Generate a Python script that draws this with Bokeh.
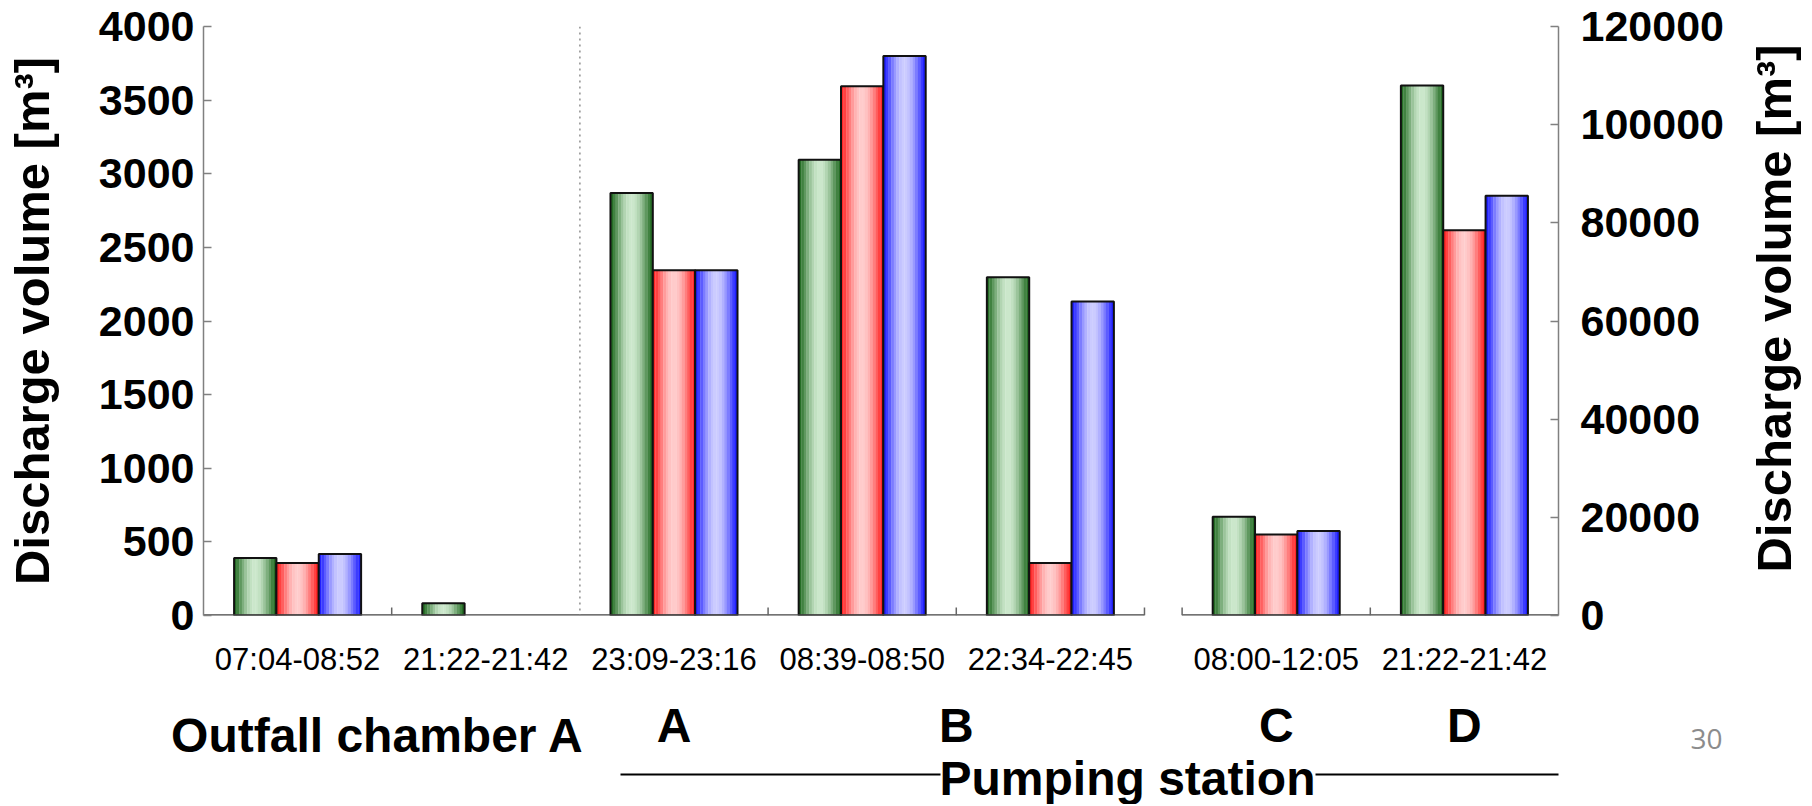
import math
from bokeh.plotting import figure
from bokeh.models import (ColumnDataSource, Range1d, LinearAxis, FixedTicker,
                          CustomJSTickFormatter, BasicTickFormatter, Span)
from bokeh.transform import dodge
from bokeh.layouts import column, row
from bokeh.embed import file_html
from bokeh.resources import INLINE
from bokeh.core.properties import value

nan = float("nan")

# ---------------- data ----------------
left_categories = ["07:04-08:52", "21:22-21:42", "23:09-23:16", "08:39-08:50", "22:34-22:45"]
left_sites = ["Outfall chamber A", "Outfall chamber A", "A", "B", "B"]
right_categories = ["08:00-12:05", "21:22-21:42"]
right_sites = ["C", "D"]

green_left = [390, 83, 2870, 3095, 2297]
red_left = [357, nan, 2345, 3595, 357]
blue_left = [417, nan, 2345, 3800, 2132]

green_right = [20100, 108000]
red_right = [16500, 78500]
blue_right = [17200, 85500]

left_ticks = [0, 500, 1000, 1500, 2000, 2500, 3000, 3500, 4000]
right_ticks = [0, 20000, 40000, 60000, 80000, 100000, 120000]

axis_title = "Discharge volume [m³]"
group_title = "Pumping station"
page_number = "30"

# ---------------- layout constants (pixels) ----------------
W, H_MAIN, H_TOTAL = 1810, 680, 804
W_MAIN = 1740                     # main chart + lower label strip
W_SIDE = W - W_MAIN               # strip holding the right-hand axis title
H_LOW = H_TOTAL - H_MAIN
FRAME_L, FRAME_R, FRAME_T, FRAME_B = 203, 1558, 26, 615
FL, FR, FT, FB = FRAME_L, W_MAIN - FRAME_R, FRAME_T, H_MAIN - FRAME_B
GAP = 0.2
BW = 0.225
NS = 16
FONT = "Liberation Sans"

n_left, n_right = len(left_categories), len(right_categories)
x_end = n_left + GAP + n_right
left_x = [i + 0.5 for i in range(n_left)]
right_x = [round(n_left + GAP + j + 0.5, 6) for j in range(n_right)]
frame_w = FRAME_R - FRAME_L
frame_h = FRAME_B - FRAME_T
ppu = frame_w / x_end


def px_to_x(px):
    return (px - FRAME_L) / ppu


x_range = Range1d(0, x_end)

p = figure(width=W_MAIN, height=H_MAIN, x_range=x_range, y_range=Range1d(0, left_ticks[-1]),
           output_backend="svg", toolbar_location=None,
           min_border_left=FL, min_border_right=FR, min_border_top=FT, min_border_bottom=FB)
p.extra_y_ranges = {"right": Range1d(0, right_ticks[-1])}
p.outline_line_color = None
p.grid.visible = False
p.background_fill_color = "white"
p.border_fill_color = "white"
p.frame_align = False

# x axis (category labels)
xa = p.xaxis[0]
xa.ticker = FixedTicker(ticks=left_x + right_x)
xa.formatter = CustomJSTickFormatter(
    args=dict(pos=left_x + right_x, labels=left_categories + right_categories),
    code="""
    for (let i = 0; i < pos.length; i++) {
        if (Math.abs(pos[i] - tick) < 1e-6) { return labels[i]; }
    }
    return "";
""")
xa.axis_line_color = None
xa.major_tick_line_color = None
xa.minor_tick_line_color = None
xa.major_label_text_font = FONT
xa.major_label_text_font_size = "31px"
xa.major_label_text_color = "black"
xa.major_label_standoff = 20


def style_y(ax, standoff):
    ax.major_tick_in = 8
    ax.major_tick_out = 0
    ax.minor_tick_line_color = None
    ax.axis_line_color = "#808080"
    ax.axis_line_width = 1.5
    ax.major_tick_line_color = "#808080"
    ax.major_tick_line_width = 1.5
    ax.major_label_text_font = FONT
    ax.major_label_text_font_style = "bold"
    ax.major_label_text_font_size = "43px"
    ax.major_label_text_color = "black"
    ax.major_label_standoff = standoff


# left y axis
ya = p.yaxis[0]
ya.ticker = FixedTicker(ticks=left_ticks)
style_y(ya, 9)
ya.axis_label = axis_title
ya.axis_label_text_font = FONT
ya.axis_label_text_font_style = "bold"
ya.axis_label_text_font_size = "49px"
ya.axis_label_text_color = "black"
ya.axis_label_standoff = 37

# right y axis
ra = LinearAxis(y_range_name="right", ticker=FixedTicker(ticks=right_ticks),
                formatter=BasicTickFormatter(use_scientific=False))
style_y(ra, 22)
p.add_layout(ra, "right")

# ---------------- bars ----------------
series = [
    ("green", (30, 104, 30), (204, 232, 204)),
    ("red", (255, 30, 30), (255, 204, 204)),
    ("blue", (24, 24, 255), (204, 204, 255)),
]


def mix(c1, c2, t):
    return "#%02x%02x%02x" % tuple(int(round(a + (b - a) * t)) for a, b in zip(c1, c2))


src_left = ColumnDataSource(dict(x=left_x, green=green_left, red=red_left, blue=blue_left))
src_right = ColumnDataSource(dict(x=right_x, green=green_right, red=red_right, blue=blue_right))

for src, rng in [(src_left, "default"), (src_right, "right")]:
    for s, (name, dark, light) in enumerate(series):
        off = (s - 1) * BW
        for k in range(NS):
            u = (k + 0.5) / NS
            t = math.sin(math.pi * u) ** 1.3
            p.vbar(x=dodge("x", off - BW / 2 + u * BW), top=name, width=BW / NS * 1.1,
                   source=src, fill_color=mix(dark, light, t), line_color=None,
                   y_range_name=rng)
        p.vbar(x=dodge("x", off), top=name, width=BW, source=src, fill_color=None,
               line_color="#111111", line_width=2, y_range_name=rng)

# baseline with category boundary ticks
divider_x = left_sites.count(left_sites[0])
panels = [(0, n_left), (n_left + GAP, x_end)]
p.segment(x0=[a for a, b in panels], x1=[b for a, b in panels], y0=[0, 0], y1=[0, 0],
          line_color="#444444", line_width=2.5)
bounds = [i for i in range(1, n_left + 1) if i != divider_x] + \
         [n_left + GAP + j for j in range(n_right)]
tick_h = 8 * left_ticks[-1] / frame_h
p.segment(x0=bounds, x1=bounds, y0=[0] * len(bounds), y1=[tick_h] * len(bounds),
          line_color="#666666", line_width=1.5)

p.add_layout(Span(location=divider_x, dimension="height", line_color="#909090",
                  line_dash="dotted", line_width=1.5))

# ---------------- lower strip: site / group labels ----------------
p2 = figure(width=W_MAIN, height=H_LOW, x_range=Range1d(px_to_x(0), px_to_x(W_MAIN)),
            y_range=Range1d(0, H_LOW), x_axis_location=None, y_axis_location=None,
            toolbar_location=None, output_backend="svg", min_border=0,
            min_border_left=0, min_border_right=0, min_border_top=0, min_border_bottom=0)
p2.frame_align = False
p2.outline_line_color = None
p2.grid.visible = False
p2.background_fill_color = "white"
p2.border_fill_color = "white"


def py_low(py):
    return H_TOTAL - py


all_x = left_x + right_x
all_sites = left_sites + right_sites
site_names, site_pos = [], []
for sname in all_sites:
    if sname not in site_names:
        site_names.append(sname)
        xs = [x for x, s2 in zip(all_x, all_sites) if s2 == sname]
        site_pos.append(sum(xs) / len(xs))

# outfall label: right edge at the divider
p2.text(x=[px_to_x(584)], y=[py_low(735)], text=site_names[:1], text_font=value(FONT),
        text_font_style="bold", text_font_size="48px", text_align="right",
        text_baseline="middle", text_color="black")
p2.text(x=site_pos[1:], y=[py_low(725)] * (len(site_pos) - 1), text=site_names[1:],
        text_font=value(FONT), text_font_style="bold", text_font_size="48px",
        text_align="center", text_baseline="middle", text_color="black")

p2.text(x=[px_to_x(1127)], y=[py_low(778)], text=[group_title], text_font=value(FONT),
        text_font_style="bold", text_font_size="48px", text_align="center",
        text_baseline="middle", text_color="black")
p2.segment(x0=[px_to_x(620), px_to_x(1315)], x1=[px_to_x(940), x_end],
           y0=[py_low(774)] * 2, y1=[py_low(774)] * 2, line_color="black", line_width=2)

p2.text(x=[px_to_x(1706)], y=[py_low(738)], text=[page_number], text_font=value("Open Sans"),
        text_font_size="28px", text_align="center", text_baseline="middle",
        text_color="#8c8c8c")

# ---------------- side strip: right-hand axis title (reads bottom-to-top) ----------------
p3 = figure(width=W_SIDE, height=H_TOTAL, x_range=Range1d(0, W_SIDE),
            y_range=Range1d(0, H_TOTAL), x_axis_location=None, y_axis_location=None,
            toolbar_location=None, output_backend="svg", min_border=0,
            min_border_left=0, min_border_right=0, min_border_top=0, min_border_bottom=0)
p3.frame_align = False
p3.outline_line_color = None
p3.grid.visible = False
p3.background_fill_color = "white"
p3.border_fill_color = "white"
p3.text(x=[1773 - W_MAIN], y=[H_TOTAL - 308], text=[axis_title], angle=math.pi / 2,
        text_font=value(FONT), text_font_style="bold", text_font_size="49px",
        text_align="center", text_baseline="middle", text_color="black")

layout = row(column(p, p2, spacing=0), p3, spacing=0)
open("out.html", "w").write(file_html(layout, INLINE))
